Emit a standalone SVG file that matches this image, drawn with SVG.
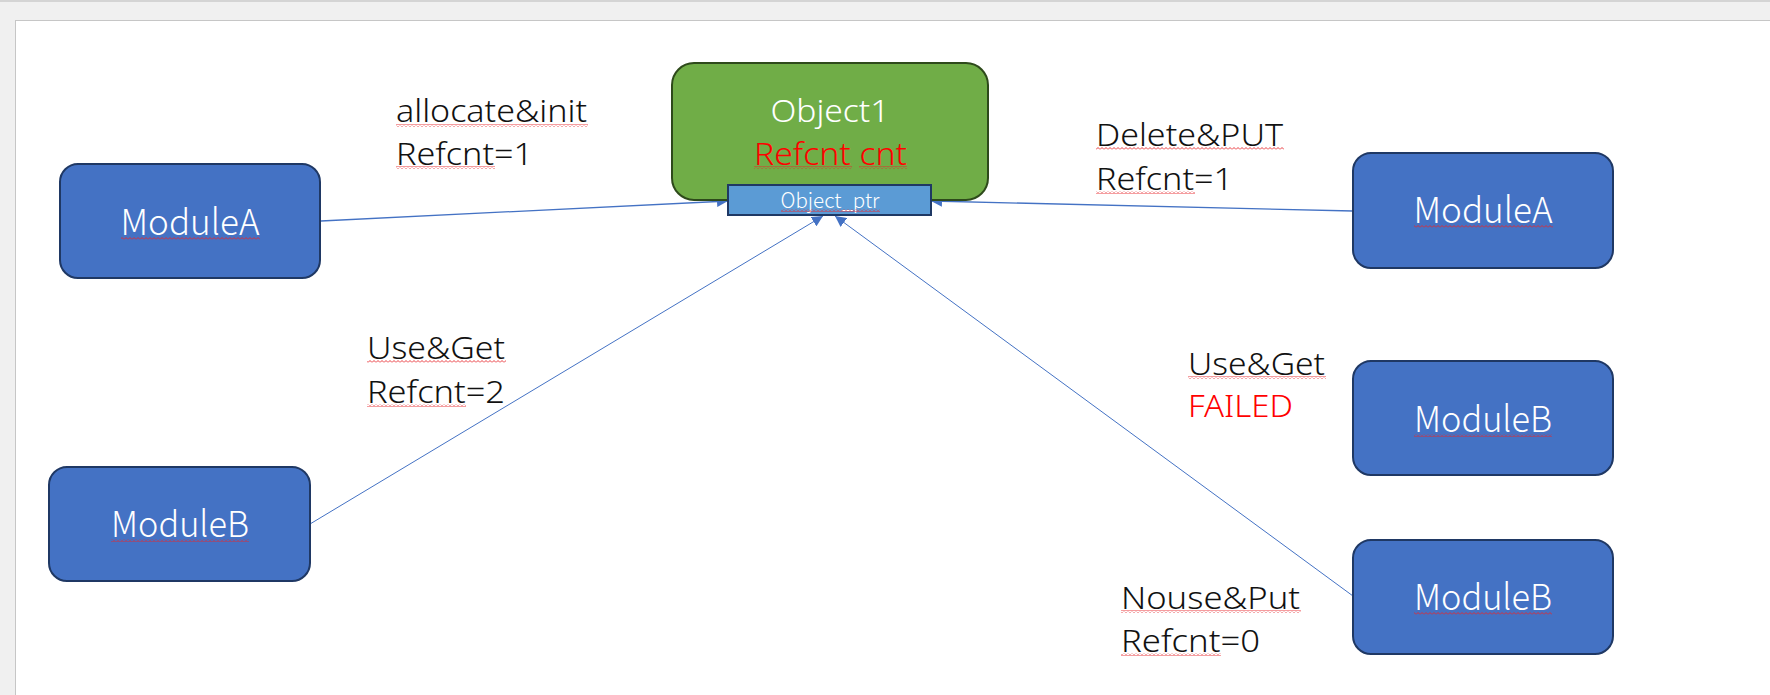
<svg xmlns="http://www.w3.org/2000/svg" width="1770" height="695" viewBox="0 0 1770 695">
<style>
text{font-family:"Noto Sans","Liberation Sans",sans-serif;font-weight:300}
.cjk{font-family:"Noto Sans CJK SC","Noto Sans",sans-serif}
.mod{fill:#4472c4;stroke:#1f3864;stroke-width:2}
.mt{font-size:36px;fill:#ffffff;text-anchor:middle}
.lbl{font-size:31px;fill:#111111}
.red{fill:#ff0000}
.con{fill:none;stroke:#4472c4}
.sq{fill:url(#sq)}
</style>
<defs>
<pattern id="sq" width="4" height="3" patternUnits="userSpaceOnUse">
<path d="M0,2.5 L2,0.5 L4,2.5" fill="none" stroke="#e8262a" stroke-width="0.9"/>
</pattern>
<marker id="ah" viewBox="0 0 10 10" refX="10" refY="5" markerWidth="11" markerHeight="11" markerUnits="userSpaceOnUse" orient="auto">
<path d="M0,0 L10,5 L0,10 Z" fill="#4472c4"/>
</marker>
</defs>
<rect x="0" y="0" width="1770" height="695" fill="#f0f0f0"/>
<rect x="0" y="0" width="1770" height="2" fill="#d4d4d4"/>
<rect x="15.5" y="20.5" width="1760" height="680" fill="#ffffff" stroke="#c6c6c6" stroke-width="1"/>

<g id="connectors">
<line class="con" stroke-width="1.3" x1="321" y1="221" x2="728" y2="201" marker-end="url(#ah)"/>
<line class="con" stroke-width="1.3" x1="1353" y1="211" x2="931" y2="201" marker-end="url(#ah)"/>
<line class="con" stroke-width="1" x1="310" y1="524" x2="823" y2="216" marker-end="url(#ah)"/>
<line class="con" stroke-width="1" x1="1353" y1="596" x2="835" y2="216" marker-end="url(#ah)"/>
</g>

<g id="object1">
<rect x="672" y="63" width="316" height="137" rx="22" fill="#70ad47" stroke="#2e4a1b" stroke-width="2"/>
<text x="830" y="122" font-size="31" fill="#ffffff" text-anchor="middle" textLength="119" lengthAdjust="spacingAndGlyphs">Object1</text>
<text x="754" y="165" font-size="31" fill="#ff0000" textLength="153" lengthAdjust="spacingAndGlyphs">Refcnt cnt</text>
<rect class="sq" x="754" y="166" width="98" height="3"/>
<rect class="sq" x="859" y="166" width="48" height="3"/>
</g>

<g id="object_ptr">
<rect x="728" y="185" width="203" height="30" fill="#5b9bd5" stroke="#1f3864" stroke-width="2"/>
<text class="cjk" x="830" y="208" font-size="21" fill="#ffffff" text-anchor="middle" textLength="99" lengthAdjust="spacingAndGlyphs">Object_ptr</text>
<rect class="sq" x="781" y="209" width="99" height="3"/>
</g>

<g id="moduleA_left">
<rect class="mod" x="60" y="164" width="260" height="114" rx="18"/>
<text class="mt cjk" x="190" y="235" textLength="139" lengthAdjust="spacingAndGlyphs">ModuleA</text>
<rect class="sq" x="121" y="237" width="139" height="3"/>
</g>

<g id="moduleA_right">
<rect class="mod" x="1353" y="153" width="260" height="115" rx="18"/>
<text class="mt cjk" x="1483" y="223" textLength="139" lengthAdjust="spacingAndGlyphs">ModuleA</text>
<rect class="sq" x="1414" y="225" width="139" height="3"/>
</g>

<g id="moduleB_left">
<rect class="mod" x="49" y="467" width="261" height="114" rx="18"/>
<text class="mt cjk" x="180" y="537" textLength="138" lengthAdjust="spacingAndGlyphs">ModuleB</text>
<rect class="sq" x="111" y="539" width="138" height="3"/>
</g>

<g id="moduleB_mid">
<rect class="mod" x="1353" y="361" width="260" height="114" rx="18"/>
<text class="mt cjk" x="1483" y="432" textLength="138" lengthAdjust="spacingAndGlyphs">ModuleB</text>
<rect class="sq" x="1414" y="434" width="138" height="3"/>
</g>

<g id="moduleB_bottom">
<rect class="mod" x="1353" y="540" width="260" height="114" rx="18"/>
<text class="mt cjk" x="1483" y="610" textLength="138" lengthAdjust="spacingAndGlyphs">ModuleB</text>
<rect class="sq" x="1414" y="612" width="138" height="3"/>
</g>

<g id="labels">
<text class="lbl" x="396" y="122" textLength="191" lengthAdjust="spacingAndGlyphs">allocate&amp;init</text>
<rect class="sq" x="396" y="124" width="192" height="3"/>
<text class="lbl" x="396" y="165" textLength="137" lengthAdjust="spacingAndGlyphs">Refcnt=1</text>
<rect class="sq" x="396" y="166" width="99" height="3"/>

<text class="lbl" x="1096" y="146" textLength="187" lengthAdjust="spacingAndGlyphs">Delete&amp;PUT</text>
<rect class="sq" x="1096" y="147" width="188" height="3"/>
<text class="lbl" x="1096" y="190" textLength="137" lengthAdjust="spacingAndGlyphs">Refcnt=1</text>
<rect class="sq" x="1096" y="191" width="99" height="3"/>

<text class="lbl" x="367" y="359" textLength="138" lengthAdjust="spacingAndGlyphs">Use&amp;Get</text>
<rect class="sq" x="367" y="360" width="139" height="3"/>
<text class="lbl" x="367" y="403" textLength="138" lengthAdjust="spacingAndGlyphs">Refcnt=2</text>
<rect class="sq" x="367" y="404" width="99" height="3"/>

<text class="lbl" x="1188" y="375" textLength="137" lengthAdjust="spacingAndGlyphs">Use&amp;Get</text>
<rect class="sq" x="1188" y="376" width="138" height="3"/>
<text class="lbl red" x="1188" y="417" textLength="105" lengthAdjust="spacingAndGlyphs">FAILED</text>

<text class="lbl" x="1121" y="609" textLength="179" lengthAdjust="spacingAndGlyphs">Nouse&amp;Put</text>
<rect class="sq" x="1121" y="610" width="180" height="3"/>
<text class="lbl" x="1121" y="652" textLength="139" lengthAdjust="spacingAndGlyphs">Refcnt=0</text>
<rect class="sq" x="1121" y="653" width="100" height="3"/>
</g>
</svg>
